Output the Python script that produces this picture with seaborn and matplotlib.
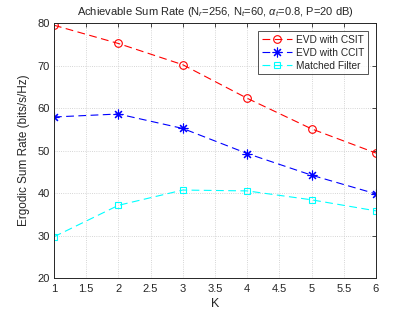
import matplotlib
matplotlib.use("Agg")
import matplotlib.pyplot as plt
import seaborn as sns
import pandas as pd

# data
K = [1, 2, 3, 4, 5, 6]
evd_csit = [79.5, 75.2, 70.2, 62.3, 55.1, 49.4]
evd_ccit = [57.9, 58.6, 55.2, 49.3, 44.2, 39.8]
matched_filter = [29.7, 37.1, 40.7, 40.5, 38.4, 35.8]
series_names = ["EVD with CSIT", "EVD with CCIT", "Matched Filter"]

df = pd.DataFrame({"K": K * 3,
                   "rate": evd_csit + evd_ccit + matched_filter,
                   "series": [s for s in series_names for _ in K]})

sns.set_style("white")
plt.rcParams["font.family"] = ["Liberation Sans", "DejaVu Sans"]
plt.rcParams["mathtext.fontset"] = "custom"
plt.rcParams["mathtext.rm"] = "Liberation Sans"
plt.rcParams["mathtext.it"] = "Liberation Sans:italic"

fig = plt.figure(figsize=(4.15, 3.12), dpi=100)
ax = fig.add_axes([0.130, 0.109, 0.776, 0.817])

colors = {"EVD with CSIT": "#ff0000", "EVD with CCIT": "#0000ff", "Matched Filter": "#00ffff"}
markers = {"EVD with CSIT": "o", "EVD with CCIT": (8, 2, 0), "Matched Filter": "s"}
msizes = {"EVD with CSIT": 5.5, "EVD with CCIT": 7, "Matched Filter": 4.5}

for name in series_names:
    sub = df[df.series == name]
    sns.lineplot(data=sub, x="K", y="rate", ax=ax, color=colors[name], label=name,
                 linestyle=(0, (7, 4)), linewidth=0.8, marker=markers[name],
                 markersize=msizes[name],
                 markerfacecolor="none", markeredgecolor=colors[name], markeredgewidth=0.8)

ax.set_xlim(1, 6)
ax.set_ylim(20, 80)
ax.set_xticks([1, 1.5, 2, 2.5, 3, 3.5, 4, 4.5, 5, 5.5, 6])
ax.set_xticklabels(["1", "1.5", "2", "2.5", "3", "3.5", "4", "4.5", "5", "5.5", "6"])
ax.set_yticks(range(20, 81, 10))
ax.tick_params(direction="in", top=True, right=True, labelsize=8, length=3, width=0.6,
               pad=3, colors="#262626")
ax.tick_params(axis="x", pad=4)
ax.grid(True, linestyle=":", color="#c8c8c8", linewidth=0.6)
for s in ax.spines.values():
    s.set_color("#262626")
    s.set_linewidth(0.7)

ax.set_xlabel("K", fontsize=9, labelpad=3, color="#262626")
ax.set_ylabel("Ergodic Sum Rate (bits/s/Hz)", fontsize=8.5, labelpad=5, color="#262626")
ax.set_title(r"Achievable Sum Rate (N$_r$=256, N$_t$=60, $\alpha_t$=0.8, P=20 dB)",
             fontsize=8, pad=6, color="#262626")

leg = ax.legend(loc="upper right", fontsize=7.3, frameon=True, fancybox=False,
                edgecolor="#262626", handlelength=3.0, borderpad=0.35, labelspacing=0.3,
                handletextpad=0.4, borderaxespad=0.8)
leg.get_frame().set_linewidth(0.7)

fig.savefig("out.png", dpi=100)
